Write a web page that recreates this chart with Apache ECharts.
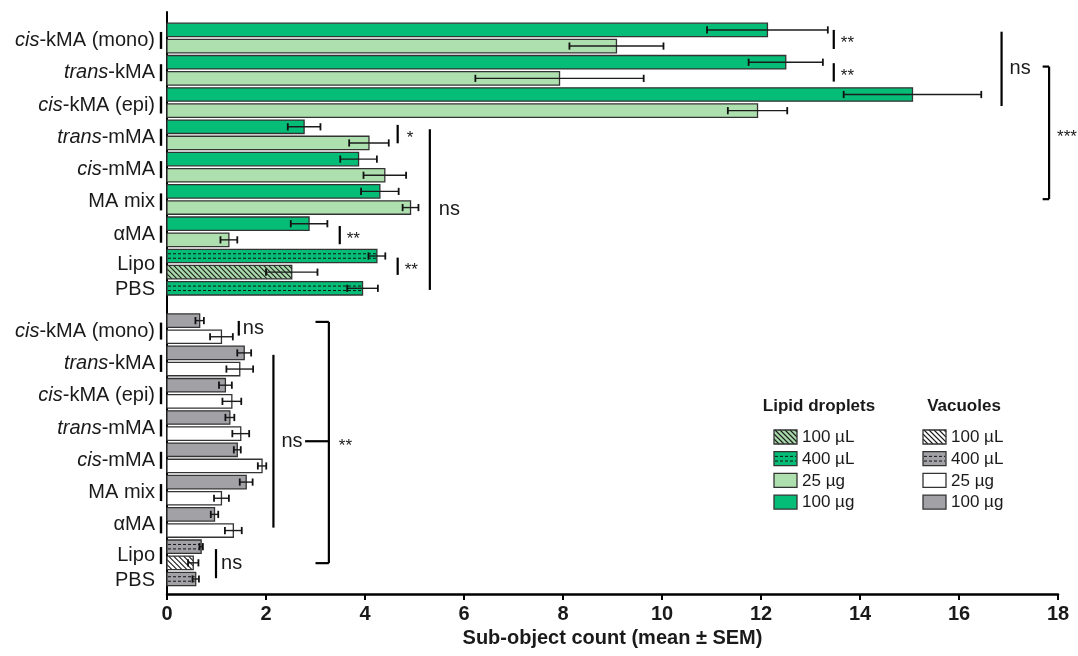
<!DOCTYPE html>
<html>
<head>
<meta charset="utf-8">
<script src="https://cdn.jsdelivr.net/npm/echarts@6/dist/echarts.min.js"></script>
<style>
  html, body { margin: 0; padding: 0; background: #fff; }
  #chart { width: 1078px; height: 656px; }
</style>
</head>
<body>
<div id="chart"></div>
<script>
// Compounds tested, each shown at 100 µg and 25 µg
const categories = ['cis-kMA (mono)', 'trans-kMA', 'cis-kMA (epi)', 'trans-mMA', 'cis-mMA', 'MA mix', 'αMA'];

// Lipid droplets (mean, SEM)
const ld100ug    = [12.13, 12.50, 15.06, 2.77, 3.87, 4.30, 2.87];
const ld100ugSem = [1.22, 0.75, 1.39, 0.33, 0.37, 0.38, 0.37];
const ld25ug     = [9.08, 7.93, 11.93, 4.08, 4.40, 4.92, 1.25];
const ld25ugSem  = [0.95, 1.70, 0.60, 0.40, 0.43, 0.16, 0.17];

// Vacuoles (mean, SEM)
const vac100ug    = [0.66, 1.56, 1.18, 1.27, 1.42, 1.60, 0.96];
const vac100ugSem = [0.085, 0.14, 0.13, 0.09, 0.07, 0.13, 0.075];
const vac25ug     = [1.10, 1.47, 1.31, 1.49, 1.92, 1.10, 1.34];
const vac25ugSem  = [0.23, 0.27, 0.19, 0.17, 0.085, 0.15, 0.17];

// Controls: Lipo 400 µL, Lipo 100 µL, PBS 400 µL
const controlDoses  = ['400 µL', '100 µL', '400 µL'];
const ldControl     = [4.24, 2.52, 3.95];
const ldControlSem  = [0.17, 0.52, 0.31];
const vacControl    = [0.69, 0.53, 0.58];
const vacControlSem = [0.035, 0.105, 0.065];

const xTicks = [0, 2, 4, 6, 8, 10, 12, 14, 16, 18];

// ---- layout of the bar slots (one slot per bar, top panel then bottom panel)
const PANEL_START = { ld: 0, vac: 18 };

function buildRows(panel, v100, s100, v25, s25, ctrl, ctrlSem) {
  const start = PANEL_START[panel];
  const rows = [];
  categories.forEach((c, i) => {
    rows.push({ value: v100[i], sem: s100[i], slot: start + 2 * i, kind: panel + '100ug' });
    rows.push({ value: v25[i], sem: s25[i], slot: start + 2 * i + 1, kind: panel + '25ug' });
  });
  ctrl.forEach((v, i) => {
    const kind = panel + controlDoses[i].replace(' µL', 'uL');
    rows.push({ value: v, sem: ctrlSem[i], slot: start + 14 + i, kind });
  });
  return rows;
}

const rows = buildRows('ld', ld100ug, ld100ugSem, ld25ug, ld25ugSem, ldControl, ldControlSem)
  .concat(buildRows('vac', vac100ug, vac100ugSem, vac25ug, vac25ugSem, vacControl, vacControlSem));

function richName(name) {
  const m = name.match(/^(cis|trans)(-.*)$/);
  return m ? '{i|' + m[1] + '}{n|' + m[2] + '}' : '{n|' + name + '}';
}

const labelRows = [];
['ld', 'vac'].forEach(p => {
  const s = PANEL_START[p];
  categories.forEach((c, i) => labelRows.push({ text: richName(c), slot: s + 2 * i + 0.65, tick: true }));
  labelRows.push({ text: richName('Lipo'), slot: s + 14.55, tick: true });
  labelRows.push({ text: richName('PBS'), slot: s + 16.1, tick: false });
});

// Significance marks (x in counts, from/to in bar slots)
const annotations = [
  { type: 'line', x: 13.47, from: 0.0, to: 1.18, label: '**', gap: 7 },
  { type: 'line', x: 13.47, from: 2.06, to: 3.20, label: '**', gap: 7 },
  { type: 'line', x: 16.86, from: 0.11, to: 4.71, label: 'ns', gap: 8 },
  { type: 'bracket', x: 17.82, arm: 17.69, from: 2.27, to: 10.48, label: '***', gap: 8 },
  { type: 'line', x: 4.66, from: 5.88, to: 7.02, label: '*', gap: 9 },
  { type: 'line', x: 5.31, from: 6.15, to: 16.10, label: 'ns', gap: 9 },
  { type: 'line', x: 3.49, from: 12.14, to: 13.27, label: '**', gap: 7 },
  { type: 'line', x: 4.66, from: 14.10, to: 15.17, label: '**', gap: 7 },
  { type: 'line', x: 1.45, from: 18.02, to: 18.93, label: 'ns', gap: 4 },
  { type: 'line', x: 2.15, from: 20.12, to: 30.82, label: 'ns', gap: 8, connect: [2.79, 3.27] },
  { type: 'bracket', x: 3.27, arm: 3.0, from: 18.08, to: 33.02, label: '**', gap: 10 },
  { type: 'line', x: 0.99, from: 32.15, to: 33.95, label: 'ns', gap: 5 }
];

// ---- styling
const SANS = '"Liberation Sans", Arial, Helvetica, sans-serif';
const INK = '#1a1a1a';

const barStyles = {
  ld100ug:  { fill: '#05BD77' },
  ld25ug:   { fill: '#AEDFAE' },
  ld400uL:  { fill: '#05BD77', pattern: 'dash' },
  ld100uL:  { fill: '#A8D9AA', pattern: 'hatch' },
  vac100ug: { fill: '#A2A1A6' },
  vac25ug:  { fill: '#FFFFFF' },
  vac400uL: { fill: '#A2A1A6', pattern: 'dash' },
  vac100uL: { fill: '#FFFFFF', pattern: 'hatch' }
};

function patternLines(kind, x, y, w, h) {
  const out = [];
  if (kind === 'dash') {
    [1 / 3, 2 / 3].forEach(f => out.push({
      type: 'line',
      shape: { x1: x + 1, y1: y + h * f, x2: x + w - 1, y2: y + h * f },
      style: { stroke: '#111', lineWidth: 1, lineDash: [3, 2] }
    }));
  } else if (kind === 'hatch') {
    const step = 5;
    for (let s = x - h; s < x + w; s += step) {
      const t0 = Math.max(0, x - s), t1 = Math.min(h, x + w - s);
      if (t1 <= t0) continue;
      out.push({
        type: 'line',
        shape: { x1: s + t0, y1: y + t0, x2: s + t1, y2: y + t1 },
        style: { stroke: '#1b1b1b', lineWidth: 1.1 }
      });
    }
  }
  return out;
}

function swatch(kind, x, y, w, h) {
  const st = barStyles[kind];
  return [
    { type: 'rect', shape: { x, y, width: w, height: h }, style: { fill: st.fill } },
    ...(st.pattern ? patternLines(st.pattern, x, y, w, h) : []),
    { type: 'rect', shape: { x, y, width: w, height: h }, style: { fill: 'none', stroke: '#333', lineWidth: 1.3 } }
  ];
}

function renderBar(params, api) {
  const r = rows[params.dataIndex];
  const base = api.coord([0, r.slot]);
  const end = api.coord([r.value, r.slot]);
  const h = api.size([0, 1])[1] * 0.83;
  const x0 = base[0], w = end[0] - base[0], cy = base[1], y0 = cy - h / 2;
  const children = swatch(r.kind, x0, y0, w, h);
  const lo = api.coord([r.value - r.sem, r.slot])[0];
  const hi = api.coord([r.value + r.sem, r.slot])[0];
  const cap = 3.6;
  children.push(
    { type: 'line', shape: { x1: lo, y1: cy, x2: hi, y2: cy }, style: { stroke: '#1c1c1c', lineWidth: 1.4 } },
    { type: 'line', shape: { x1: lo, y1: cy - cap, x2: lo, y2: cy + cap }, style: { stroke: '#111', lineWidth: 1.8 } },
    { type: 'line', shape: { x1: hi, y1: cy - cap, x2: hi, y2: cy + cap }, style: { stroke: '#111', lineWidth: 1.8 } }
  );
  return { type: 'group', children };
}

function textEl(text, x, y, font, align, valign, extra) {
  return {
    type: 'text', x, y,
    style: Object.assign({
      text, font, fill: INK,
      align, textAlign: align, verticalAlign: valign, textVerticalAlign: valign
    }, extra || {})
  };
}

function renderLabel(params, api) {
  const r = labelRows[params.dataIndex];
  const p = api.coord([0, r.slot]);
  const children = [
    textEl(r.text, p[0] - 12, p[1], '20px ' + SANS, 'right', 'middle', {
      rich: {
        i: { fontStyle: 'italic', fontSize: 20, fontFamily: SANS, fill: INK },
        n: { fontSize: 20, fontFamily: SANS, fill: INK }
      }
    })
  ];
  if (r.tick) {
    children.push({ type: 'line', shape: { x1: p[0] - 6, y1: p[1] - 8.5, x2: p[0] - 6, y2: p[1] + 8.5 },
      style: { stroke: '#000', lineWidth: 2.4 } });
  }
  return { type: 'group', children };
}

function renderMark(params, api) {
  const a = annotations[params.dataIndex];
  const top = api.coord([a.x, a.from]);
  const bot = api.coord([a.x, a.to]);
  const midY = (top[1] + bot[1]) / 2;
  const children = [
    { type: 'line', shape: { x1: top[0], y1: top[1], x2: bot[0], y2: bot[1] }, style: { stroke: '#000', lineWidth: 2.2 } }
  ];
  if (a.type === 'bracket') {
    const ax = api.coord([a.arm, a.from])[0];
    children.push(
      { type: 'line', shape: { x1: ax, y1: top[1], x2: top[0], y2: top[1] }, style: { stroke: '#000', lineWidth: 2.2 } },
      { type: 'line', shape: { x1: ax, y1: bot[1], x2: top[0], y2: bot[1] }, style: { stroke: '#000', lineWidth: 2.2 } }
    );
  }
  if (a.connect) {
    const c0 = api.coord([a.connect[0], 0])[0], c1 = api.coord([a.connect[1], 0])[0];
    children.push({ type: 'line', shape: { x1: c0, y1: midY, x2: c1, y2: midY }, style: { stroke: '#000', lineWidth: 2.2 } });
  }
  const isStar = a.label.indexOf('*') === 0;
  children.push(textEl(a.label, top[0] + a.gap, midY + (isStar ? 4 : 0),
    (isStar ? '17px ' : '20px ') + SANS, 'left', 'middle'));
  return { type: 'group', children };
}

// ---- legend (drawn with graphic elements)
const legendKinds = [
  { title: 'Lipid droplets', titleX: 819, boxX: 774, textX: 802, prefix: 'ld' },
  { title: 'Vacuoles', titleX: 964, boxX: 923, textX: 951, prefix: 'vac' }
];
const legendItems = [
  { key: '100uL', text: '100 µL' },
  { key: '400uL', text: '400 µL' },
  { key: '25ug', text: '25 µg' },
  { key: '100ug', text: '100 µg' }
];
const legendElements = [];
legendKinds.forEach(col => {
  legendElements.push(textEl(col.title, col.titleX, 406, 'bold 17px ' + SANS, 'center', 'middle'));
  legendItems.forEach((it, j) => {
    const y = 430 + j * 21.7;
    swatch(col.prefix + it.key, col.boxX, y, 23, 14).forEach(e => legendElements.push(e));
    legendElements.push(textEl(it.text, col.textX, y + 7.5, '17px ' + SANS, 'left', 'middle'));
  });
});

const chart = echarts.init(document.getElementById('chart'), null, { renderer: 'canvas' });
chart.setOption({
  animation: false,
  backgroundColor: '#fff',
  grid: { left: 167, top: 12, width: 891, height: 582, containLabel: false },
  xAxis: {
    type: 'value', min: xTicks[0], max: xTicks[xTicks.length - 1], interval: 2,
    name: 'Sub-object count (mean ± SEM)', nameLocation: 'middle', nameGap: 23,
    nameTextStyle: { fontFamily: SANS, fontWeight: 'bold', fontSize: 20, color: INK },
    axisLine: { show: true, onZero: false, lineStyle: { color: '#000', width: 2.5 } },
    axisTick: { show: true, inside: false, length: 6, lineStyle: { color: '#000', width: 2 } },
    axisLabel: { margin: 10, fontFamily: SANS, fontWeight: 'bold', fontSize: 20, color: INK },
    splitLine: { show: false }
  },
  yAxis: {
    type: 'value', min: -1.11, max: 34.93, inverse: true,
    axisLine: { show: true, onZero: false, lineStyle: { color: '#000', width: 2 } },
    axisTick: { show: false }, axisLabel: { show: false }, splitLine: { show: false }
  },
  series: [
    { type: 'custom', name: 'bars', renderItem: renderBar, data: rows.map(r => [r.value, r.slot]), encode: { x: 0, y: 1 }, z: 2 },
    { type: 'custom', name: 'labels', renderItem: renderLabel, data: labelRows.map(r => [0, r.slot]), encode: { x: 0, y: 1 }, z: 3 },
    { type: 'custom', name: 'significance', renderItem: renderMark, data: annotations.map(a => [a.x, a.from]), encode: { x: 0, y: 1 }, z: 3 }
  ],
  graphic: { elements: legendElements }
});
</script>
</body>
</html>
